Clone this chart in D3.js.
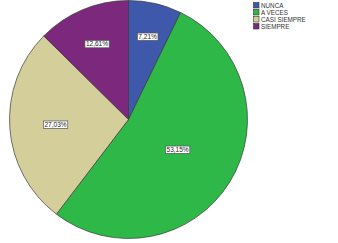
<!DOCTYPE html>
<html><head><meta charset="utf-8">
<script src="https://cdn.jsdelivr.net/npm/d3@7"></script>
<style>body{margin:0;background:#fff}svg{display:block}</style>
</head><body>
<script>
const categories = ["NUNCA", "A VECES", "CASI SIEMPRE", "SIEMPRE"];
const values = [7.21, 53.15, 27.03, 12.61];
const labels = ["7,21%", "53,15%", "27,03%", "12,61%"];
const colors = ["#3e58ac", "#2eb848", "#d4ce9a", "#7b287d"];

const W = 338, H = 243;
const cx = 128.5, cy = 119.5, r = 119;
const svg = d3.select("body").append("svg").attr("width", W).attr("height", H);
const g = svg.append("g").attr("transform", `translate(${cx},${cy})`);
const pie = d3.pie().sort(null).value(d => d)(values);
const arc = d3.arc().innerRadius(0).outerRadius(r);
g.selectAll("path").data(pie).join("path")
  .attr("d", arc).attr("fill", (d, i) => colors[i])
  .attr("stroke", "#3a3a3a").attr("stroke-width", 0.7);

pie.forEach((d, i) => {
  const a = (d.startAngle + d.endAngle) / 2;
  const dist = r * (0.75 - 0.005 * values[i]);
  const x = Math.sin(a) * dist, y = -Math.cos(a) * dist;
  const t = g.append("text").attr("x", x).attr("y", y + 2.3)
    .attr("text-anchor", "middle").attr("font-family", "Liberation Sans, Arial, sans-serif")
    .attr("font-size", 6.5).attr("fill", "#222").text(labels[i]);
  const bb = t.node().getBBox();
  g.insert("rect", "text").attr("x", bb.x - 1).attr("y", y - 3.7).attr("width", bb.width + 2).attr("height", 7.4)
    .attr("fill", "#fff").attr("stroke", "#555").attr("stroke-width", 0.7);
});

const lg = svg.append("g").attr("transform", "translate(253.5,2.5)");
categories.forEach((c, i) => {
  const y = i * 7;
  lg.append("rect").attr("x", 0).attr("y", y).attr("width", 5.5).attr("height", 5.5)
    .attr("fill", colors[i]).attr("stroke", "#333").attr("stroke-width", 0.6);
  lg.append("text").attr("x", 7.5).attr("y", y + 5).attr("font-family", "Liberation Sans, Arial, sans-serif")
    .attr("font-size", 6.3).attr("fill", "#333").text(c);
});
</script>
</body></html>
